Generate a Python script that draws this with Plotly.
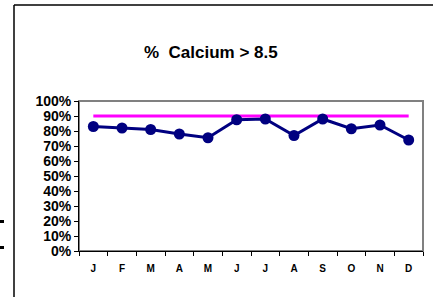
import plotly.graph_objects as go

months = ["J", "F", "M", "A", "M", "J", "J", "A", "S", "O", "N", "D"]
calcium = [0.83, 0.82, 0.81, 0.78, 0.755, 0.875, 0.88, 0.77, 0.88, 0.815, 0.84, 0.74]
target = [0.90] * 12
y_ticks = [i / 10 for i in range(11)]

W, H = 433, 297
L, R, T, B = 79, 10, 101, 46
pw, ph = W - L - R, H - T - B

def px(x):
    return (x - L) / pw

def py(y):
    return (H - B - y) / ph

xs = list(range(len(months)))

fig = go.Figure()
fig.add_trace(go.Scatter(x=xs, y=target, mode="lines",
                         line=dict(color="#FF00FF", width=3), hoverinfo="skip"))
fig.add_trace(go.Scatter(x=xs, y=calcium, mode="lines+markers",
                         line=dict(color="#000080", width=3),
                         marker=dict(color="#000080", size=11)))

shapes = [
    dict(type="rect", xref="paper", yref="paper", x0=0, x1=1, y0=0, y1=1,
         line=dict(color="#808080", width=2), layer="below"),
    dict(type="line", xref="paper", yref="paper", x0=px(14), x1=px(434), y0=py(5), y1=py(5),
         line=dict(color="black", width=1.5)),
    dict(type="line", xref="paper", yref="paper", x0=px(14), x1=px(14), y0=py(5), y1=py(298),
         line=dict(color="black", width=1.5)),
    dict(type="rect", xref="paper", yref="paper", x0=px(0), x1=px(4), y0=py(220), y1=py(223),
         fillcolor="black", line=dict(width=0)),
    dict(type="rect", xref="paper", yref="paper", x0=px(0), x1=px(4), y0=py(246), y1=py(249),
         fillcolor="black", line=dict(width=0)),
]

fig.update_layout(
    width=W, height=H,
    margin=dict(l=L, r=R, t=T, b=B),
    paper_bgcolor="white", plot_bgcolor="white",
    showlegend=False,
    font=dict(family="Liberation Sans, Arial, sans-serif", color="black"),
    shapes=shapes,
    annotations=[dict(text="<b>%\u00a0 Calcium &gt; 8.5</b>", xref="paper", yref="paper",
                      x=px(211), y=py(53), showarrow=False,
                      font=dict(size=17, color="black"),
                      xanchor="center", yanchor="middle")],
)
fig.update_xaxes(range=[-0.5, 11.5], tickvals=xs, ticktext=["<b>%s</b>" % m for m in months],
                 ticks="", tickfont=dict(size=10), showgrid=False, zeroline=False,
                 showline=True, linecolor="black", linewidth=1,
                 ticklabelstandoff=8,
                 minor=dict(tickvals=[i - 0.5 for i in range(13)], ticks="outside",
                            ticklen=4, tickcolor="black", tickwidth=1, showgrid=False))
fig.update_yaxes(range=[0, 1], tickvals=y_ticks,
                 ticktext=["<b>%d%%</b>" % round(v * 100) for v in y_ticks],
                 ticks="outside", ticklen=4, tickcolor="black", tickfont=dict(size=14),
                 showgrid=False, zeroline=False, showline=True, linecolor="black", linewidth=1)

fig.write_html("out.html", config={"displayModeBar": False},
               post_script="document.body.style.margin='0';document.body.style.overflow='hidden';")
